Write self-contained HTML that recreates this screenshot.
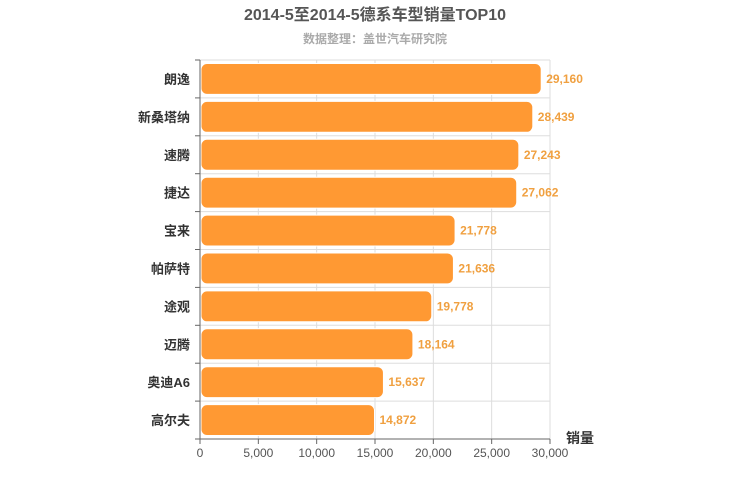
<!DOCTYPE html>
<html><head><meta charset="utf-8"><style>
body{margin:0;background:#fff;}
svg{display:block;font-family:"Liberation Sans","Noto Sans CJK SC",sans-serif;}
</style></head><body>
<svg id="chart" width="750" height="500">
<text x="375" y="20" text-anchor="middle" font-size="16" font-weight="bold" fill="#555">2014-5至2014-5德系车型销量TOP10</text>
<text x="375" y="43" text-anchor="middle" font-size="12" font-weight="bold" fill="#aaa">数据整理：盖世汽车研究院</text>
<g id="grid"></g><g id="bars"></g><g id="axes"></g>
<text x="566" y="443" font-size="14" font-weight="bold" fill="#333">销量</text>
</svg>
<script>
const categories=["朗逸","新桑塔纳","速腾","捷达","宝来","帕萨特","途观","迈腾","奥迪A6","高尔夫"];
const values=[29160,28439,27243,27062,21778,21636,19778,18164,15637,14872];
const ticks=[0,5000,10000,15000,20000,25000,30000];
const tickLabels=["0","5,000","10,000","15,000","20,000","25,000","30,000"];
const NS="http://www.w3.org/2000/svg";
const L=200,R=550,T=60,B=439,max=30000;
const x=v=>L+(R-L)*v/max;
const step=(B-T)/categories.length;
const y=i=>T+i*step;
function mk(t,a,p){const e=document.createElementNS(NS,t);for(const k in a)e.setAttribute(k,a[k]);p.appendChild(e);return e;}
const g=document.getElementById('grid'),b=document.getElementById('bars'),ax=document.getElementById('axes');
ticks.forEach((t,i)=>{
 if(i>0){const l=mk('line',{x1:x(t),x2:x(t),y1:T,y2:B,stroke:'#ddd'},g);
 
 }
 mk('line',{x1:x(t),x2:x(t),y1:B,y2:B+5,stroke:'#666'},ax);
 const tx=mk('text',{x:x(t),y:B+18,'text-anchor':'middle','font-size':12,fill:'#555'},ax);
 tx.textContent=tickLabels[i];
 
 
});
for(let i=0;i<=categories.length;i++){
 if(i<categories.length){const l=mk('line',{x1:L,x2:R,y1:y(i),y2:y(i),stroke:'#ddd'},g);
 
 }
 mk('line',{x1:L-5,x2:L,y1:y(i),y2:y(i),stroke:'#666'},ax);
}
categories.forEach((c,i)=>{
 const r=mk('rect',{x:L+1,y:y(i)+3.5,width:x(values[i])-L,height:step-7,rx:6,fill:'#ff9933',stroke:'#fff','stroke-width':1},b);
 
 
 const v=mk('text',{x:x(values[i])+6,y:y(i)+step/2+4,'font-size':12,'font-weight':'bold',fill:'#f0a040'},b);
 v.textContent=values[i].toLocaleString('en-US');
 
 
 const t=mk('text',{x:L-10,y:y(i)+step/2+5,'text-anchor':'end','font-size':13,'font-weight':'bold',fill:'#333'},ax);
 t.textContent=c;
 
 
});
mk('line',{x1:L,x2:L,y1:T,y2:B,stroke:'#666'},ax);
mk('line',{x1:L,x2:R,y1:B,y2:B,stroke:'#666'},ax);
</script>
</body></html>
